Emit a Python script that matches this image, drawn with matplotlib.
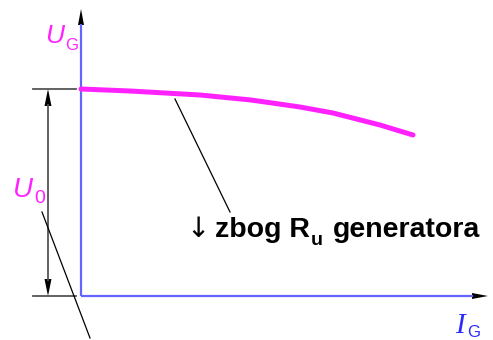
import matplotlib
matplotlib.use("Agg")
import matplotlib.pyplot as plt

# generator load characteristic U_G(I_G), origin at the axes corner
i_g = [0, 49, 119, 170, 219, 252, 299, 332]
u_g = [207, 205, 201, 196, 189, 183, 171, 161]
u0 = 207

magenta = '#ff22ff'
axis_blue = '#6464ff'
label_blue = '#2a2aff'
grey = '#555555'

fig = plt.figure(figsize=(4.93, 3.40), dpi=100)
ax = fig.add_axes([0, 0, 1, 1])
ax.set_xlim(-81, 412)
ax.set_ylim(-44, 296)
ax.axis('off')
renderer = fig.canvas.get_renderer()


def after(t, gap=0):
    # data x just to the right of a text object
    bb = t.get_window_extent(renderer)
    return ax.transData.inverted().transform((bb.x1, bb.y0))[0] + gap


# axes with black arrow heads
ax.plot([0, 0], [0, 272], color=axis_blue, lw=1.6, solid_capstyle='butt')
ax.plot([0, 392], [0, 0], color=axis_blue, lw=1.6, solid_capstyle='butt')
ax.fill([-3, 3, 0], [271, 271, 287], color='black', lw=0)
ax.fill([391, 391, 407], [-3, 3, 0], color='black', lw=0)

# characteristic curve
ax.plot(i_g, u_g, color=magenta, lw=3.6, solid_capstyle='round')

# dimension for U0
ax.plot([-48, -5], [u0, u0], color=grey, lw=1.3)
ax.plot([-48, -5], [0, 0], color=grey, lw=1.3)
ax.plot([-33, -33], [u0 - 16, 16], color=grey, lw=1.3)
ax.fill([-36.5, -29.5, -33], [u0 - 17, u0 - 17, u0], color='black', lw=0)
ax.fill([-36.5, -29.5, -33], [17, 17, 0], color='black', lw=0)

# leader lines
ax.plot([94, 149], [197, 84], color='black', lw=0.9)
ax.plot([-39, 9], [84, -42], color='black', lw=0.9)

# labels
sans = ['Liberation Sans', 'DejaVu Sans']
t = ax.text(-36, 253, 'U', color=magenta, fontsize=19, style='italic',
            family=sans, va='baseline')
ax.text(after(t, 1), 246, 'G', color=magenta, fontsize=12, family=sans, va='baseline')
t = ax.text(-68, 99, 'U', color=magenta, fontsize=20, style='italic',
            family=sans, va='baseline')
ax.text(after(t, 1), 93, '0', color=magenta, fontsize=14, family=sans, va='baseline')
t = ax.text(374, -37, 'I', color=label_blue, fontsize=21, style='italic',
            family='Liberation Serif', va='baseline')
ax.text(after(t, 2), -41, 'G', color=label_blue, fontsize=12, family=sans, va='baseline')

t = ax.text(105, 59, '\u2193', fontsize=20, family=['DejaVu Sans'], va='baseline')
t = ax.text(after(t, 6), 59, 'zbog R', fontsize=20.5, fontweight='bold',
            family=sans, va='baseline')
t = ax.text(after(t, 1), 51, 'u', fontsize=14, fontweight='bold', family=sans, va='baseline')
ax.text(after(t, 10), 59, 'generatora', fontsize=20.5, fontweight='bold',
        family=sans, va='baseline')

fig.savefig('out.png', dpi=100)
